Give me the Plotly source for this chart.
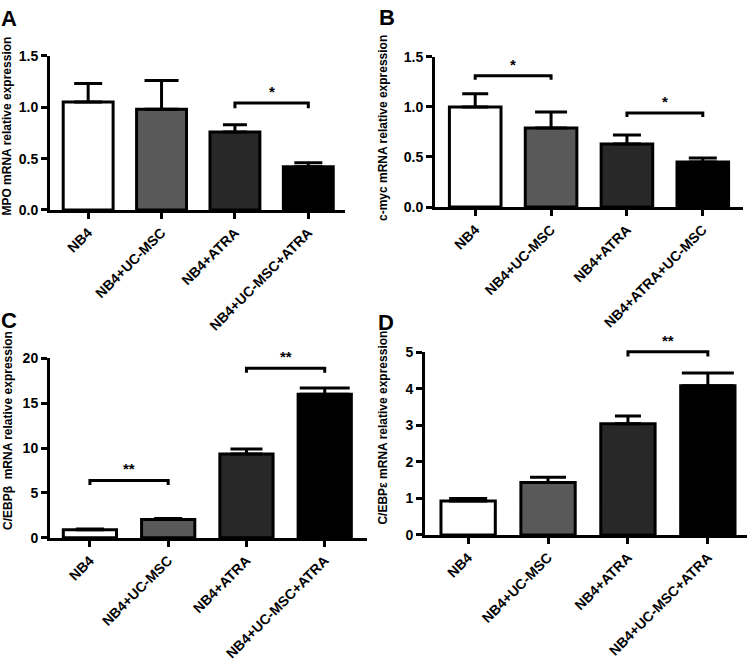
import plotly.graph_objects as go

# ---------------- data ----------------
cats_A = ["NB4", "NB4+UC-MSC", "NB4+ATRA", "NB4+UC-MSC+ATRA"]
cats_B = ["NB4", "NB4+UC-MSC", "NB4+ATRA", "NB4+ATRA+UC-MSC"]
cats_C = ["NB4", "NB4+UC-MSC", "NB4+ATRA", "NB4+UC-MSC+ATRA"]
cats_D = ["NB4", "NB4+UC-MSC", "NB4+ATRA", "NB4+UC-MSC+ATRA"]

mean_A = [1.05, 0.98, 0.76, 0.42]
err_A = [0.18, 0.28, 0.07, 0.04]
mean_B = [1.00, 0.79, 0.63, 0.45]
err_B = [0.13, 0.16, 0.09, 0.04]
mean_C = [0.9, 2.06, 9.35, 16.0]
err_C = [0.08, 0.1, 0.55, 0.7]
mean_D = [0.93, 1.44, 3.05, 4.09]
err_D = [0.07, 0.14, 0.21, 0.35]

yticks_A = [0.0, 0.5, 1.0, 1.5]
yticks_B = [0.0, 0.5, 1.0, 1.5]
yticks_C = [0, 5, 10, 15, 20]
yticks_D = [0, 1, 2, 3, 4, 5]

ytitle_A = "MPO mRNA relative expression"
ytitle_B = "c-myc mRNA relative expression"
ytitle_C = "C/EBPβ\u00a0 mRNA relative expression"
ytitle_D = "C/EBPε mRNA relative expression"

# significance brackets: (from index, to index, height, label)
sig_A = [(2, 3, 1.04, "*")]
sig_B = [(0, 1, 1.31, "*"), (2, 3, 0.94, "*")]
sig_C = [(0, 1, 6.4, "**"), (2, 3, 18.9, "**")]
sig_D = [(2, 3, 5.02, "**")]

bar_colors = ["#ffffff", "#595959", "#282828", "#000000"]

# ---------------- layout ----------------
W, H = 750, 662
FONT = "Liberation Sans, Arial, sans-serif"

panels = [
    dict(cats=cats_A, mean=mean_A, err=err_A, ticks=yticks_A, fmt="{:.1f}", title=ytitle_A, sig=sig_A,
         letter="A", px=(50, 345), py=(49, 207), xr=(-0.52, 3.5), tip=0.05, caps=[14, 17, 12, 14],
         title_pos=(7.5, 121), letter_pos=(9, 11)),
    dict(cats=cats_B, mean=mean_B, err=err_B, ticks=yticks_B, fmt="{:.1f}", title=ytitle_B, sig=sig_B,
         letter="B", px=(435, 743), py=(50, 204), xr=(-0.53, 3.53), tip=0.04, caps=[13, 16, 14, 14],
         title_pos=(383, 123), letter_pos=(387, 10)),
    dict(cats=cats_C, mean=mean_C, err=err_C, ticks=yticks_C, fmt="{:d}", title=ytitle_C, sig=sig_C,
         letter="C", px=(50, 367), py=(359, 543), xr=(-0.51, 3.54), tip=0.5, caps=[14, 14, 16, 25],
         title_pos=(7.5, 433), letter_pos=(9, 320)),
    dict(cats=cats_D, mean=mean_D, err=err_D, ticks=yticks_D, fmt="{:d}", title=ytitle_D, sig=sig_D,
         letter="D", px=(425, 747), py=(353, 540), xr=(-0.54, 3.49), tip=0.13, caps=[19, 18, 13, 26],
         title_pos=(383, 430), letter_pos=(386, 322)),
]

fig = go.Figure()
shapes = []
annotations = []

for i, p in enumerate(panels, start=1):
    xa = "x" if i == 1 else f"x{i}"
    ya = "y" if i == 1 else f"y{i}"
    for j in range(len(p["cats"])):
        fig.add_trace(go.Bar(
            x=[p["cats"][j]], y=[p["mean"][j]], xaxis=xa, yaxis=ya, width=0.68,
            marker=dict(color=bar_colors[j], line=dict(color="black", width=3)),
            error_y=dict(type="data", array=[p["err"][j]], arrayminus=[0], symmetric=False,
                         color="black", thickness=3, width=p["caps"][j]),
            showlegend=False,
        ))
    xd = [p["px"][0] / W, p["px"][1] / W]
    yd = [1 - p["py"][1] / H, 1 - p["py"][0] / H]
    ymax = p["ticks"][-1]
    axkey_x = "xaxis" if i == 1 else f"xaxis{i}"
    axkey_y = "yaxis" if i == 1 else f"yaxis{i}"
    fig.layout[axkey_x] = dict(
        domain=xd, anchor=ya, range=list(p["xr"]), type="category",
        categoryorder="array", categoryarray=p["cats"],
        tickvals=p["cats"], ticktext=[f"<b>{c}</b>" for c in p["cats"]],
        showline=True, linecolor="black", linewidth=3, ticks="outside", ticklen=6,
        tickwidth=2.5, tickcolor="black", tickangle=-45, showgrid=False, zeroline=False,
        tickfont=dict(family=FONT, size=14, color="black", weight="bold"),
    )
    fig.layout[axkey_y] = dict(
        domain=yd, anchor=xa, range=[0, ymax], tickvals=p["ticks"],
        ticktext=[f"<b>{p['fmt'].format(t)}</b>" for t in p["ticks"]],
        showline=True, linecolor="black", linewidth=3, ticks="outside", ticklen=6,
        tickwidth=2.5, tickcolor="black", showgrid=False, zeroline=False,
        tickfont=dict(family=FONT, size=14, color="black", weight="bold"),
    )
    for (a, b, h, lab) in p["sig"]:
        y0 = (h - p["tip"]) / ymax
        y1 = h / ymax
        shapes.append(dict(
            type="path", xref=xa, yref=f"{ya} domain",
            path=f"M {a},{y0} L {a},{y1} L {b},{y1} L {b},{y0}",
            line=dict(color="black", width=3),
        ))
        annotations.append(dict(
            x=(a + b) / 2, y=y1, xref=xa, yref=f"{ya} domain", text=f"<b>{lab}</b>", showarrow=False,
            yanchor="bottom", yshift=1, font=dict(family=FONT, size=15, color="black", weight="bold"),
        ))
    tx, ty = p["title_pos"]
    annotations.append(dict(
        x=tx / W, y=1 - ty / H, xref="paper", yref="paper", text=f"<b>{p['title']}</b>", showarrow=False,
        textangle=-90, xanchor="center", yanchor="middle",
        font=dict(family=FONT, size=12, color="black", weight="bold"),
    ))
    lx, ly = p["letter_pos"]
    annotations.append(dict(
        x=lx / W, y=1 - ly / H, xref="paper", yref="paper", text=f"<b>{p['letter']}</b>", showarrow=False,
        xanchor="center", yanchor="middle",
        font=dict(family=FONT, size=22, color="black", weight="bold"),
    ))

fig.update_layout(
    width=W, height=H, margin=dict(l=0, r=0, t=0, b=0),
    paper_bgcolor="white", plot_bgcolor="white", barmode="overlay",
    shapes=shapes, annotations=annotations,
)

fig.write_html("out.html", config={"displayModeBar": False},
               post_script="document.body.style.margin='0';")
